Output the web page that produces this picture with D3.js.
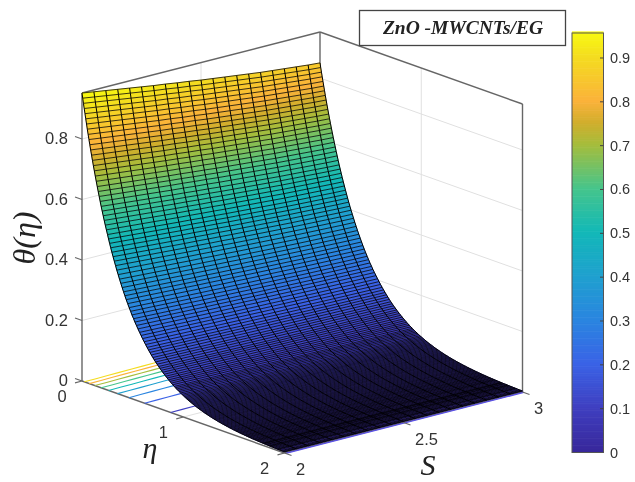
<!DOCTYPE html>
<html>
<head>
<meta charset="utf-8">
<script src="https://d3js.org/d3.v7.min.js"></script>
<style>
body { margin: 0; background: #fff; }
svg { filter: blur(0.35px); }
text { font-family: "Liberation Sans", Arial, sans-serif; fill: #333; }
.serif { font-family: "Liberation Serif", "Times New Roman", serif; font-style: italic; fill: #222; }
</style>
</head>
<body>
<svg width="635" height="482"></svg>
<script>
//mesh coordinates of the surface
var sValues = [2, 2.05, 2.1, 2.15, 2.2, 2.25, 2.3, 2.35, 2.4, 2.45, 2.5, 2.55, 2.6, 2.65, 2.7, 2.75, 2.8, 2.85, 2.9, 2.95, 3];

var wallTheta = [0.952, 0.946, 0.94, 0.934, 0.928, 0.922, 0.916, 0.911, 0.905, 0.9, 0.894, 0.889, 0.884, 0.879, 0.874, 0.869, 0.865, 0.861, 0.857, 0.853, 0.85];

//decay of theta along eta, one value per eta step of 1/150, relative to the wall value
//estimated by eye from the two side edges of the surface, same shape used for all S
var decay = [
  1, .984, .968, .953, .938, .923, .908, .894, .879, .865,
  .851, .838, .824, .811, .798, .785, .773, .76, .748, .736,
  .724, .712, .701, .689, .678, .667, .656, .645, .634, .624,
  .614, .604, .594, .584, .575, .565, .556, .547, .538, .529,
  .52, .511, .503, .494, .486, .478, .47, .462, .455, .447,
  .44, .432, .425, .418, .411, .404, .397, .39, .384, .377,
  .371, .365, .358, .352, .346, .34, .334, .329, .323, .318,
  .312, .307, .302, .296, .291, .286, .282, .277, .272, .267,
  .263, .2585, .254, .2497, .2454, .2412, .237, .233, .2289, .2247,
  .2205, .2167, .213, .2093, .2057, .2021, .1986, .1951, .1917, .1882,
  .1847, .1814, .1782, .175, .1718, .1687, .1657, .1627, .1598, .1571,
  .1545, .1517, .149, .1463, .1437, .1411, .1386, .1361, .1337, .1313,
  .129, .1267, .1245, .1223, .1201, .1179, .1158, .1137, .1116, .1095,
  .1075, .1055, .1036, .1017, .0998, .098, .0962, .0944, .0927, .091,
  .0894, .0878, .0862, .0846, .083, .0815, .08, .0785, .0771, .0757,
  .0743, .0729, .0716, .0703, .069, .0677, .0664, .0652, .064, .0628,
  .0616, .0604, .0593, .0582, .0571, .056, .055, .054, .053, .052,
  .051, .05, .0491, .0481, .0472, .0463, .0454, .0446, .0437, .0429,
  .0421, .0413, .0405, .0397, .039, .0382, .0375, .0368, .0361, .0354,
  .0347, .034, .0334, .0327, .0321, .0315, .0309, .0303, .0297, .0291,
  .0286, .0281, .0275, .027, .0265, .026, .0255, .025, .0245, .024,
  .0235, .0231, .0226, .0222, .0218, .0214, .0209, .0205, .0201, .0197,
  .0193, .0189, .0186, .0182, .0179, .0175, .0172, .0168, .0165, .0161,
  .0158, .0155, .0152, .0149, .0146, .0143, .014, .0137, .0135, .0132,
  .0129, .0127, .0124, .0122, .0119, .0117, .0115, .0112, .011, .0107,
  .0105, .0103, .0101, .0099, .0097, .0095, .0094, .0092, .009, .0088,
  .0086, .0084, .0083, .0081, .008, .0078, .0077, .0075, .0074, .0072,
  .007, .0069, .0068, .0066, .0065, .0064, .0063, .0062, .006, .0059,
  .0057, .0056, .0055, .0054, .0053, .0052, .0051, .005, .0049, .0048,
  .0046, .0045, .0044, .0043, .0043, .0042, .0041, .004, .0039, .0038,
  .0037
];

//decay level of each mesh row, from counting the row spacing in the picture
var rowDecay = [
  1, .983, .966, .949, .932, .915, .898, .881, .864, .847, .83, .813, .796, .779, .762, .745, .728, .711, .694, .678, .662, .646, .63,
  .615, .6, .585, .57, .555, .54, .526, .512, .498, .484, .47, .456, .442, .428, .414,
  .4, .387, .374, .361, .349, .337, .325, .313, .302, .291, .28, .27, .26, .25, .24, .231, .222, .213, .205, .197,
  .19, .183, .176, .169, .163, .157, .151, .145, .14, .135, .13, .125, .12, .1155, .111, .107, .103, .099, .095,
  .092, .089, .086, .083, .08, .077, .0745, .072, .0698, .0676, .0654, .0634, .0614, .0595, .0577, .056, .0543, .0526, .051,
  .0494, .0478, .0463, .0448, .0434, .042, .0407, .0394, .0381, .0369, .0357, .0345, .0334, .0323, .0312, .0302, .0292, .0282,
  .0272, .0263, .0254, .0245, .0236, .0228, .022, .0212, .0204, .0197, .019, .0183, .0177, .0171, .0165, .0159, .0153, .0148,
  .0143, .0138, .0133, .0128, .0124, .012, .0116, .0112, .0108, .0104, .01, .0097, .0094, .0091, .0088, .0085, .0082, .0079,
  .0076, .0074, .0072, .007, .0068, .0066, .0064, .0062, .006, .0058, .0056, .0054, .0052, .005, .0048, .0046, .0044, .0042, .004, .0038, .0037
];

//tick labels
var zTicks = [0, 0.2, 0.4, 0.6, 0.8];
var etaTicks = [0, 1, 2];
var sTicks = [2, 2.5, 3];
var barTicks = [0, 0.1, 0.2, 0.3, 0.4, 0.5, 0.6, 0.7, 0.8, 0.9];

//contour levels drawn on the floor
var contourLevels = [0.1, 0.2, 0.3, 0.4, 0.5, 0.6, 0.7, 0.8, 0.9];

//colormap as seen on the colorbar
var colorStops = [0, 0.1, 0.2, 0.3, 0.4, 0.5, 0.6, 0.7, 0.75, 0.8, 0.9, 0.957];
var colorValues = ["#38279a", "#3f3fc0", "#3a62e6", "#2a85e0", "#1fa0cf", "#12b8b8", "#45c58c", "#a5bd3c", "#d0ae2c", "#fbb23a", "#f4dc20", "#f8fa10"];

var svg = d3.select("svg");

var colour = d3.scaleLinear().domain(colorStops).range(colorValues).clamp(true);

//orthographic view: each data axis moves the point along a fixed screen direction
var originX = 82, originY = 381;
var sToX = d3.scaleLinear().domain([2, 3]).range([0, 238]);
var sToY = d3.scaleLinear().domain([2, 3]).range([0, -61]);
var etaToX = d3.scaleLinear().domain([0, 2]).range([0, 202.5]);
var etaToY = d3.scaleLinear().domain([0, 2]).range([0, 72]);
var zToY = d3.scaleLinear().domain([0, 1]).range([0, -302.5]);

function project(s, eta, z) {
    return [originX + sToX(s) + etaToX(eta), originY + sToY(s) + etaToY(eta) + zToY(z)];
}

var line = d3.line();
var zTop = 0.952;

function segment(g, a, b, color, width) {
    g.append("path")
        .attr("d", line([a, b]))
        .attr("fill", "none")
        .attr("stroke", color)
        .attr("stroke-width", width);
}

//grid on the back walls and the floor
var grid = svg.append("g");
zTicks.slice(1).forEach(function(z) {
    segment(grid, project(2, 0, z), project(3, 0, z), "#e0e0e0", 1);
    segment(grid, project(3, 0, z), project(3, 2, z), "#e0e0e0", 1);
});
segment(grid, project(2.5, 0, 0), project(2.5, 0, zTop), "#e0e0e0", 1);
segment(grid, project(3, 1, 0), project(3, 1, zTop), "#e0e0e0", 1);
segment(grid, project(2.5, 0, 0), project(2.5, 2, 0), "#e0e0e0", 1);
segment(grid, project(2, 1, 0), project(3, 1, 0), "#e0e0e0", 1);

//box
var box = svg.append("g");
var boxColour = "#666";
[[2, 0], [3, 0], [3, 2]].forEach(function(c) {
    segment(box, project(c[0], c[1], 0), project(c[0], c[1], zTop), boxColour, 1.4);
});
segment(box, project(2, 0, zTop), project(3, 0, zTop), boxColour, 1.4);
segment(box, project(3, 0, zTop), project(3, 2, zTop), boxColour, 1.4);
segment(box, project(2, 0, 0), project(2, 2, 0), boxColour, 1.4);
segment(box, project(2, 2, 0), project(3, 2, 0), boxColour, 1.4);

//eta of a decay level, looked up in the decay list
var etaValues = decay.map(function(d, i) { return i / 150; });
var decayToEta = d3.scaleLinear().domain(decay).range(etaValues);
var rowEta = rowDecay.map(function(d) { return decayToEta(d); });

function theta(col, row) {
    return wallTheta[col] * rowDecay[row];
}

//contour lines on the floor
var contours = svg.append("g");
contourLevels.forEach(function(level) {
    var pts = [];
    sValues.forEach(function(s, col) {
        var rel = level / wallTheta[col];
        if (rel < 1) pts.push(project(s, decayToEta(rel), 0));
    });
    contours.append("path")
        .attr("d", line(pts))
        .attr("fill", "none")
        .attr("stroke", colour(level))
        .attr("stroke-width", 1.1);
});
//lowest contour shows along the front edge
segment(contours, project(2, 2.012, 0), project(3, 2.012, 0), "#5a50e8", 1.3);

//surface facets, drawn back to front
var facets = [];
for (var r = 0; r < rowDecay.length - 1; r++) {
    for (var c = sValues.length - 2; c >= 0; c--) {
        facets.push({row: r, col: c});
    }
}

svg.append("g")
    .selectAll("path")
    .data(facets)
    .enter().append("path")
    .attr("d", function(d) {
        return line([
            project(sValues[d.col], rowEta[d.row], theta(d.col, d.row)),
            project(sValues[d.col + 1], rowEta[d.row], theta(d.col + 1, d.row)),
            project(sValues[d.col + 1], rowEta[d.row + 1], theta(d.col + 1, d.row + 1)),
            project(sValues[d.col], rowEta[d.row + 1], theta(d.col, d.row + 1))
        ]) + "Z";
    })
    .attr("fill", function(d) { return colour(theta(d.col, d.row)); })
    .attr("stroke", function(d) { return colour(theta(d.col, d.row)); })
    .attr("stroke-width", 0.5);

//mesh lines over the facets
var mesh = svg.append("g").attr("fill", "none").attr("stroke", "#000");
rowEta.forEach(function(e, row) {
    mesh.append("path")
        .attr("d", line(sValues.map(function(s, col) { return project(s, e, theta(col, row)); })))
        .attr("stroke-width", 0.9)
        .attr("stroke-opacity", 0.85);
});
sValues.forEach(function(s, col) {
    mesh.append("path")
        .attr("d", line(rowEta.map(function(e, row) { return project(s, e, theta(col, row)); })))
        .attr("stroke-width", 1);
});

//ticks and tick labels
var ticks = svg.append("g");
zTicks.forEach(function(z) {
    var p = project(2, 0, z);
    segment(ticks, p, [p[0] - 7, p[1] - 2.5], boxColour, 1.2);
    ticks.append("text").attr("x", p[0] - 14).attr("y", p[1] + 5)
        .attr("text-anchor", "end").attr("font-size", 16.5).text(z);
});
etaTicks.forEach(function(e) {
    var p = project(2, e, 0);
    segment(ticks, p, [p[0] - 7, p[1] + 1.8], boxColour, 1.2);
    ticks.append("text").attr("x", p[0] - 20).attr("y", p[1] + 21)
        .attr("text-anchor", "middle").attr("font-size", 16.5).text(e);
});
sTicks.forEach(function(s) {
    var p = project(s, 2, 0);
    segment(ticks, p, [p[0] + 7, p[1] + 2.5], boxColour, 1.2);
    ticks.append("text").attr("x", p[0] + (s == 2.5 ? 23 : 16)).attr("y", p[1] + 22)
        .attr("text-anchor", "middle").attr("font-size", 16.5).text(s);
});

//axis labels
svg.append("text").attr("class", "serif").attr("x", 150).attr("y", 458)
    .attr("text-anchor", "middle").attr("font-size", 30).text("\u03b7");
svg.append("text").attr("class", "serif").attr("x", 428).attr("y", 475)
    .attr("text-anchor", "middle").attr("font-size", 30).text("S");
svg.append("text").attr("class", "serif")
    .attr("transform", "translate(35,238) rotate(-90)")
    .attr("text-anchor", "middle").attr("font-size", 32).text("\u03b8(\u03b7)");

//title box
svg.append("rect").attr("x", 359.5).attr("y", 10.5).attr("width", 206).attr("height", 35)
    .attr("fill", "#fff").attr("stroke", "#444").attr("stroke-width", 1.3);
svg.append("text").attr("class", "serif").attr("x", 463).attr("y", 34)
    .attr("text-anchor", "middle").attr("font-size", 19.5).attr("font-weight", "bold")
    .text("ZnO -MWCNTs/EG");

//colorbar
var barScale = d3.scaleLinear().domain([0, 0.957]).range([452.5, 33]);
var barLevels = d3.range(0, 0.957, 0.004);
svg.append("g").selectAll("rect")
    .data(barLevels)
    .enter().append("rect")
    .attr("x", 572).attr("width", 31.5)
    .attr("y", function(d) { return barScale(d + 0.004) - 0.3; })
    .attr("height", function(d) { return barScale(d) - barScale(d + 0.004) + 0.6; })
    .attr("fill", function(d) { return colour(d); });
svg.append("rect").attr("x", 572).attr("y", 33).attr("width", 31.5).attr("height", 419.5)
    .attr("fill", "none").attr("stroke", "#555").attr("stroke-width", 1);

var barAxis = svg.append("g");
barTicks.forEach(function(t) {
    var y = barScale(t);
    if (t > 0) segment(barAxis, [603.5, y], [600, y], "#444", 1);
    barAxis.append("text").attr("x", 610).attr("y", y + 5)
        .attr("font-size", 14.5).text(t);
});
</script>
</body>
</html>
